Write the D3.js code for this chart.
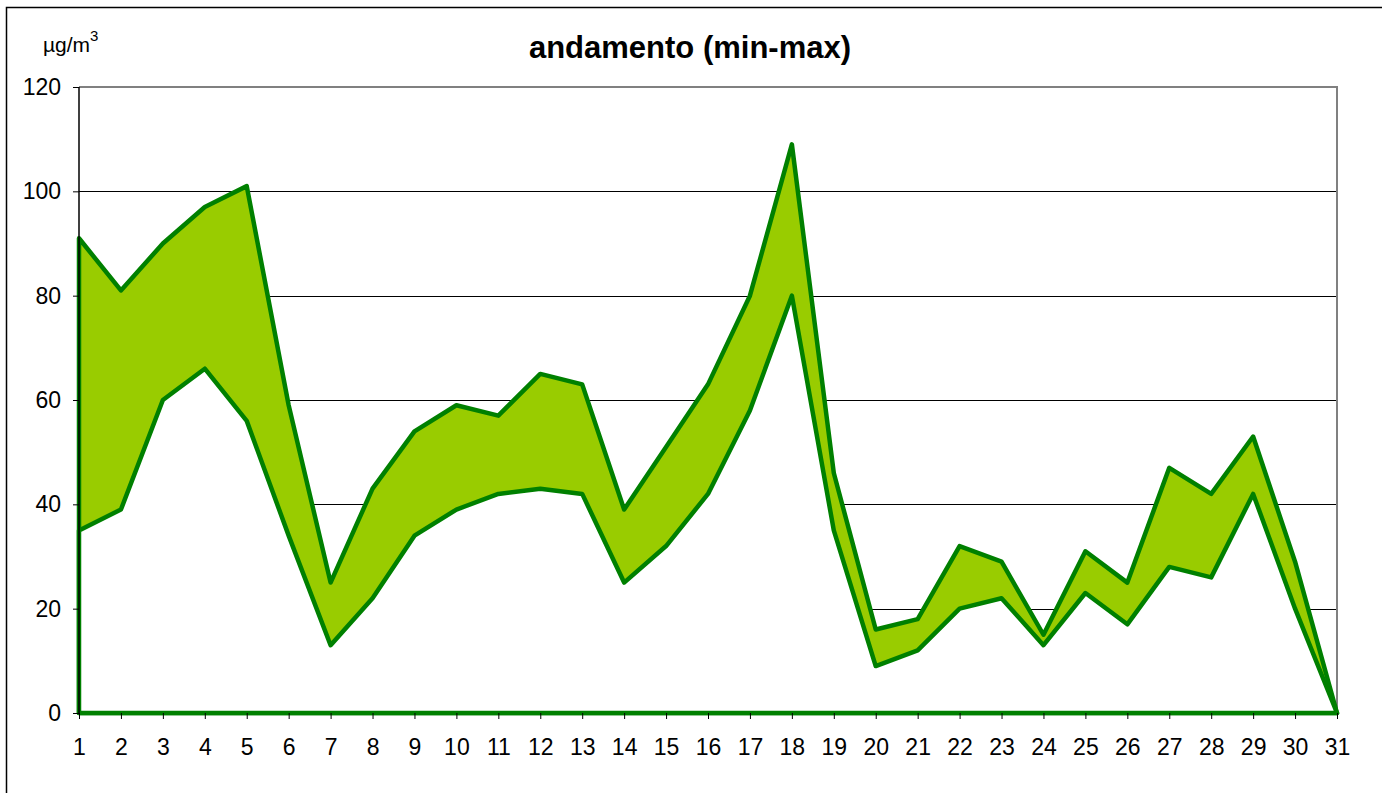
<!DOCTYPE html>
<html>
<head>
<meta charset="utf-8">
<script src="https://cdn.jsdelivr.net/npm/d3@7"></script>
<style>
  body { margin: 0; background: #fff; }
  svg { display: block; font-family: "Liberation Sans", Arial, sans-serif; }
</style>
</head>
<body>
<svg id="chart" width="1382" height="793"></svg>
<script>
// days of the month
var days = d3.range(1, 32);
// daily max and min (µg/m3)
var maxValues = [91, 81, 90, 97, 101, 59, 25, 43, 54, 59, 57, 65, 63, 39, 51, 63, 80, 109, 46, 16, 18, 32, 29, 15, 31, 25, 47, 42, 53, 29, 0];
var minValues = [35, 39, 60, 66, 56, 34, 13, 22, 34, 39, 42, 43, 42, 25, 32, 42, 58, 80, 35, 9, 12, 20, 22, 13, 23, 17, 28, 26, 42, 20, 0];
var yTicks = [0, 20, 40, 60, 80, 100, 120];

var plotLeft = 79, plotRight = 1337, plotTop = 87, plotBottom = 713;
var green = "#008000";
var fillGreen = "#99cc00";

var svg = d3.select("#chart");

// outer frame
svg.append("rect")
  .attr("x", 6.5).attr("y", 7.5)
  .attr("width", 1400).attr("height", 800)
  .attr("fill", "none").attr("stroke", "#000").attr("stroke-width", 1.5);

var x = d3.scaleLinear().domain([1, 31]).range([plotLeft, plotRight]);
var y = d3.scaleLinear().domain([0, 120]).range([plotBottom, plotTop]);

// gridlines
svg.append("g")
  .selectAll("line")
  .data(yTicks.filter(function (d) { return d > 0 && d < 120; }))
  .enter().append("line")
    .attr("x1", plotLeft).attr("x2", plotRight)
    .attr("y1", function (d) { return Math.round(y(d)) + 0.5; })
    .attr("y2", function (d) { return Math.round(y(d)) + 0.5; })
    .attr("stroke", "#000").attr("stroke-width", 1);

// plot area border top / right
svg.append("path")
  .attr("d", "M" + plotLeft + "," + plotTop + "H" + plotRight + "V" + plotBottom)
  .attr("fill", "none").attr("stroke", "#808080").attr("stroke-width", 2);

var rows = days.map(function (d, i) { return {day: d, max: maxValues[i], min: minValues[i]}; });

var maxArea = d3.area()
  .x(function (d) { return x(d.day); })
  .y0(y(0))
  .y1(function (d) { return y(d.max); });

var minArea = d3.area()
  .x(function (d) { return x(d.day); })
  .y0(y(0))
  .y1(function (d) { return y(d.min); });

svg.append("path")
  .datum(rows)
  .attr("d", maxArea)
  .attr("fill", fillGreen)
  .attr("stroke", green).attr("stroke-width", 4.5).attr("stroke-linejoin", "round");

svg.append("path")
  .datum(rows)
  .attr("d", minArea)
  .attr("fill", "#fff")
  .attr("stroke", green).attr("stroke-width", 4.5).attr("stroke-linejoin", "round");

// axes
var yAxis = d3.axisLeft(y).tickValues(yTicks).tickSize(6).tickPadding(12);
var gy = svg.append("g")
  .attr("transform", "translate(" + plotLeft + ",0)")
  .call(yAxis);
gy.select(".domain").attr("stroke", "#000").attr("stroke-width", 1.5)
  .attr("d", "M0," + plotTop + "V" + plotBottom);
gy.selectAll(".tick line").attr("stroke", "#000");
gy.selectAll("text").attr("font-size", 23).attr("fill", "#000")
  .attr("font-family", "Liberation Sans, Arial, sans-serif");

var xAxis = d3.axisBottom(x).tickValues(days).tickFormat(d3.format("d")).tickSize(6).tickPadding(20);
var gx = svg.append("g")
  .attr("transform", "translate(0," + plotBottom + ")")
  .call(xAxis);
gx.select(".domain").remove();
gx.selectAll(".tick line").attr("stroke", "#000");
gx.selectAll("text").attr("font-size", 23).attr("fill", "#000")
  .attr("font-family", "Liberation Sans, Arial, sans-serif");

// title
svg.append("text")
  .attr("x", 690).attr("y", 58)
  .attr("text-anchor", "middle")
  .attr("font-size", 31).attr("font-weight", "bold")
  .text("andamento (min-max)");

// unit
var unit = svg.append("text")
  .attr("x", 43).attr("y", 52)
  .attr("font-size", 21);
unit.append("tspan").text("µg/m");
unit.append("tspan").attr("dy", -11).attr("font-size", 15).text("3");
</script>
</body>
</html>
